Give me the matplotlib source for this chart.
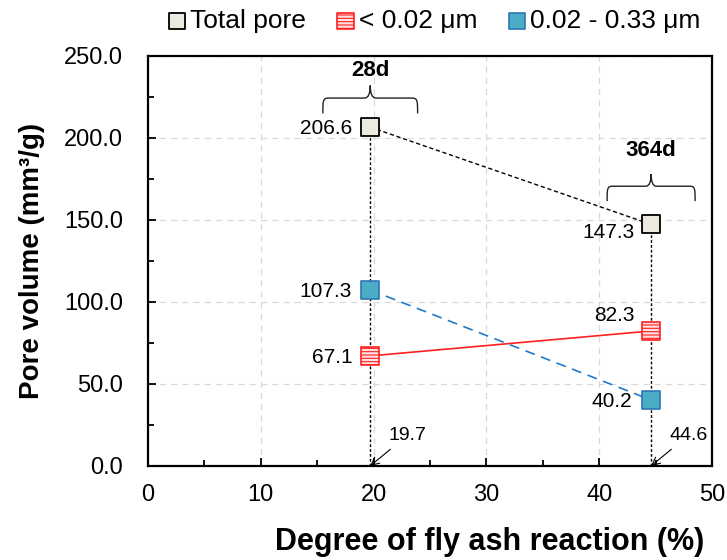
import matplotlib.pyplot as plt
from matplotlib.path import Path
from matplotlib.patches import PathPatch
from matplotlib.ticker import MultipleLocator, FormatStrFormatter

plt.rcParams['font.family'] = ['Liberation Sans', 'DejaVu Sans']
plt.rcParams['hatch.linewidth'] = 0.8

# degree of fly ash reaction at 28d and 364d
reaction = [19.7, 44.6]
ages = ["28d", "364d"]
total_pore = [206.6, 147.3]
fine_pore = [67.1, 82.3]      # < 0.02 um
mid_pore = [107.3, 40.2]      # 0.02 - 0.33 um


def brace(ax, xc, y0, half, h):
    # curly brace opening downward, tip at xc
    xl, xr = xc - half, xc + half
    ym = y0 + h * 0.55
    yt = y0 + h
    r = half * 0.12
    verts = [(xl, y0), (xl, ym - h * 0.1), (xl, ym), (xl + r, ym),
             (xc - r, ym), (xc, ym), (xc, yt),
             (xc, ym), (xc + r, ym),
             (xr - r, ym), (xr, ym), (xr, ym - h * 0.1), (xr, y0)]
    codes = [Path.MOVETO, Path.CURVE4, Path.CURVE4, Path.CURVE4,
             Path.LINETO, Path.CURVE3, Path.CURVE3,
             Path.CURVE3, Path.CURVE3,
             Path.LINETO, Path.CURVE4, Path.CURVE4, Path.CURVE4]
    ax.add_patch(PathPatch(Path(verts, codes), fill=False, lw=1.0,
                           ec='#222222', clip_on=False))


def label(ax, x, y, dx, dy):
    ax.annotate(f"{y:.1f}", (x, y), xytext=(dx, dy), textcoords='offset points',
                ha='right', va='center', fontsize=15)


fig = plt.figure(figsize=(7.27, 5.6), dpi=100)
ax = fig.add_axes([0.2036, 0.168, 0.7758, 0.732])

ax.grid(True, color='#d9d9d9', linestyle=(0, (5, 4)), lw=0.9)
ax.set_axisbelow(True)

# vertical guides from x-axis to total pore
for x, t in zip(reaction, total_pore):
    ax.plot([x, x], [0, t], color='black', ls=(0, (2, 1.5)), lw=1.0, zorder=2)

ax.plot(reaction, total_pore, color='black', ls=(0, (3, 2)), lw=1.0, zorder=2)
ax.plot(reaction, fine_pore, color='#ff2020', ls='-', lw=1.2, zorder=2)
ax.plot(reaction, mid_pore, color='#1f7ac8', ls=(0, (6, 4)), lw=1.2, zorder=2)

ax.scatter(reaction, total_pore, marker='s', s=160, facecolor='#eceadf',
           edgecolor='black', lw=1.3, zorder=3, label='Total pore')
ax.scatter(reaction, fine_pore, marker='s', s=160, facecolor='#ffe0e0',
           edgecolor='#ff2020', hatch='-----', lw=1.2, zorder=3,
           label='< 0.02 μm')
ax.scatter(reaction, mid_pore, marker='s', s=160, facecolor='#4bacc6',
           edgecolor='#2e75b6', lw=1.2, zorder=3, label='0.02 - 0.33 μm')

# value labels
label(ax, reaction[0], total_pore[0], -13, -1)
label(ax, reaction[1], total_pore[1], -12, -6)
label(ax, reaction[0], mid_pore[0], -13, -1)
label(ax, reaction[1], mid_pore[1], -14, -1)
label(ax, reaction[0], fine_pore[0], -13, -1)
label(ax, reaction[1], fine_pore[1], -12, 11)

# reaction degree callouts on the x-axis
for x in reaction:
    ax.annotate(f"{x:.1f}", xy=(x, 0), xytext=(13, 22), textcoords='offset points',
                ha='left', va='center', fontsize=14,
                arrowprops=dict(arrowstyle='->', color='black', lw=0.8,
                                shrinkA=3, shrinkB=0))

# age braces
brace(ax, reaction[0], 215, 4.2, 17)
ax.text(reaction[0], 241, ages[0], ha='center', va='center',
        fontsize=16, fontweight='bold')
brace(ax, reaction[1], 161.5, 3.9, 16.5)
ax.text(reaction[1], 192.5, ages[1], ha='center', va='center',
        fontsize=16, fontweight='bold')

ax.set_xlim(0, 50)
ax.set_ylim(0, 250)
ax.xaxis.set_major_locator(MultipleLocator(10))
ax.xaxis.set_minor_locator(MultipleLocator(5))
ax.yaxis.set_major_locator(MultipleLocator(50))
ax.yaxis.set_minor_locator(MultipleLocator(25))
ax.yaxis.set_major_formatter(FormatStrFormatter('%.1f'))
ax.tick_params(which='both', direction='in', labelsize=17, width=1.3)
ax.tick_params(which='major', length=6)
ax.tick_params(axis='x', which='major', pad=13)
ax.tick_params(axis='y', which='major', pad=18)
ax.tick_params(which='minor', length=4)
ax.tick_params(axis='x', which='minor', top=False)
for s in ax.spines.values():
    s.set_linewidth(1.6)

ax.set_xlabel('Degree of fly ash reaction (%)', fontsize=22, fontweight='bold',
              labelpad=15, x=0.605)
ax.set_ylabel('Pore volume (mm³/g)', fontsize=20, fontweight='bold',
              labelpad=14)

fig.legend(*ax.get_legend_handles_labels(), loc='center left',
           bbox_to_anchor=(0.225, 0.963), ncol=3, frameon=False, fontsize=19,
           handletextpad=0.0, columnspacing=1.0, handlelength=1.0,
           borderaxespad=0, borderpad=0, scatterpoints=1, markerscale=0.92)

fig.savefig('out.png', dpi=100)
